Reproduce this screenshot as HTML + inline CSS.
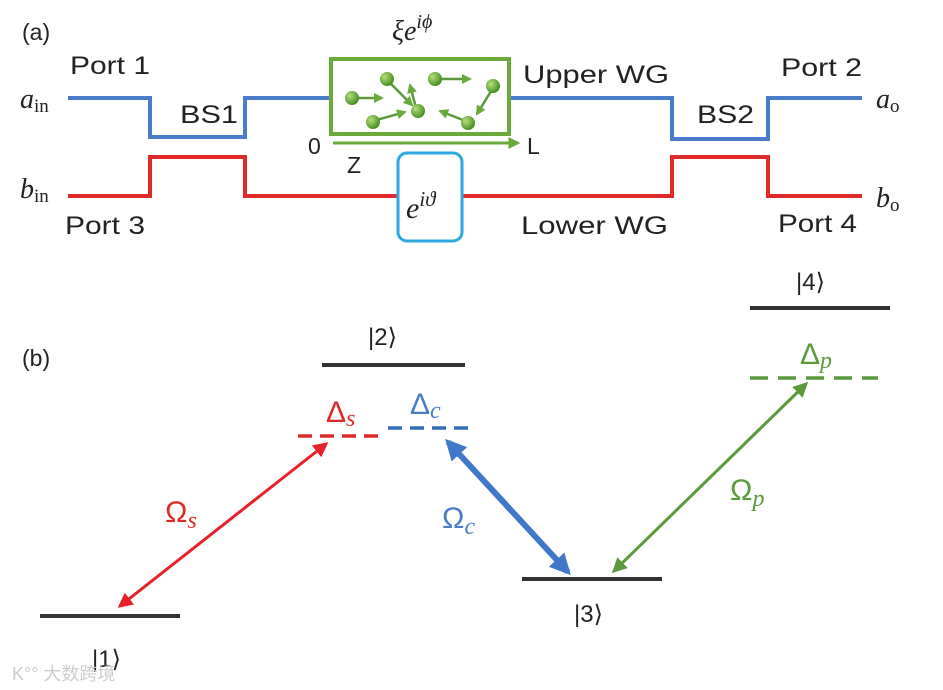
<!DOCTYPE html>
<html><head><meta charset="utf-8"><style>
html,body{margin:0;padding:0;background:#fff;}
svg{display:block;}
text{font-family:"Liberation Sans",sans-serif;}
.m{font-family:"Liberation Serif",serif;font-style:italic;}
</style></head><body>
<svg width="943" height="690" viewBox="0 0 943 690" xmlns="http://www.w3.org/2000/svg">
<defs>
<marker id="ar" viewBox="0 0 10 10" refX="8" refY="5" markerWidth="5" markerHeight="5" orient="auto-start-reverse"><path d="M0,0 L10,5 L0,10 z" fill="#e8202a"/></marker>
<marker id="ab" viewBox="0 0 10 10" refX="8" refY="5" markerWidth="3.5" markerHeight="3.5" orient="auto-start-reverse"><path d="M0,0 L10,5 L0,10 z" fill="#3f78c8"/></marker>
<marker id="ag" viewBox="0 0 10 10" refX="8" refY="5" markerWidth="5" markerHeight="5" orient="auto-start-reverse"><path d="M0,0 L10,5 L0,10 z" fill="#5a9a3a"/></marker>
<marker id="as" viewBox="0 0 10 10" refX="8" refY="5" markerWidth="4" markerHeight="4" orient="auto"><path d="M0,0 L10,5 L0,10 z" fill="#6aaa3a"/></marker>
<radialGradient id="ball" cx="0.35" cy="0.35" r="0.7"><stop offset="0" stop-color="#b6e07a"/><stop offset="1" stop-color="#3f8a1e"/></radialGradient>
</defs>
<text x="22" y="40" font-size="23" fill="#222">(a)</text>
<text x="22" y="366" font-size="23" fill="#222">(b)</text>
<polyline points="68,98 150,98 150,137 245,137 245,98 330,98" fill="none" stroke="#4a7cc8" stroke-width="4"/>
<polyline points="510,98 672,98 672,139 768,139 768,98 862,98" fill="none" stroke="#4a7cc8" stroke-width="4"/>
<polyline points="68,196 150,196 150,157 245,157 245,196 398,196" fill="none" stroke="#e02a2a" stroke-width="4"/>
<polyline points="462,196 672,196 672,157 768,157 768,196 862,196" fill="none" stroke="#e02a2a" stroke-width="4"/>
<rect x="331" y="59" width="178" height="75" fill="#fff" stroke="#6aaa3a" stroke-width="4"/>
<rect x="398" y="153" width="64" height="88" rx="9" fill="#fff" stroke="#2ea8e0" stroke-width="3"/>
<line x1="333" y1="143" x2="518" y2="143" stroke="#6aaa3a" stroke-width="3" marker-end="url(#as)"/>
<g stroke="#5a9a3a" stroke-width="2.5" fill="none">
<line x1="352" y1="98" x2="382" y2="98" marker-end="url(#as)"/>
<line x1="387" y1="80" x2="412" y2="105" marker-end="url(#as)"/>
<line x1="416" y1="108" x2="410" y2="85" marker-end="url(#as)"/>
<line x1="436" y1="79" x2="470" y2="79" marker-end="url(#as)"/>
<line x1="373" y1="121" x2="405" y2="112" marker-end="url(#as)"/>
<line x1="468" y1="122" x2="440" y2="111" marker-end="url(#as)"/>
<line x1="493" y1="88" x2="477" y2="114" marker-end="url(#as)"/>
</g>
<g fill="url(#ball)">
<circle cx="352" cy="98" r="7"/><circle cx="387" cy="79" r="7"/><circle cx="435" cy="79" r="7"/>
<circle cx="493" cy="86" r="7"/><circle cx="418" cy="111" r="7"/><circle cx="373" cy="122" r="7"/><circle cx="468" cy="123" r="7"/>
</g>
<text x="392" y="40" font-size="28" class="m" fill="#222">ξe<tspan font-size="20" dy="-12">iϕ</tspan></text>
<text x="406" y="218" font-size="30" class="m" fill="#222">e<tspan font-size="21" dy="-12">iϑ</tspan></text>
<text x="308" y="154" font-size="23" fill="#222">0</text>
<text x="347" y="173" font-size="23" fill="#222">Z</text>
<text x="527" y="154" font-size="23" fill="#222">L</text>
<text x="70" y="74" font-size="25" fill="#222" textLength="80" lengthAdjust="spacingAndGlyphs">Port 1</text>
<text x="180" y="123" font-size="25" fill="#222" textLength="58" lengthAdjust="spacingAndGlyphs">BS1</text>
<text x="523" y="83" font-size="25" fill="#222" textLength="146" lengthAdjust="spacingAndGlyphs">Upper WG</text>
<text x="697" y="123" font-size="25" fill="#222" textLength="57" lengthAdjust="spacingAndGlyphs">BS2</text>
<text x="781" y="76" font-size="25" fill="#222" textLength="81" lengthAdjust="spacingAndGlyphs">Port 2</text>
<text x="65" y="234" font-size="25" fill="#222" textLength="80" lengthAdjust="spacingAndGlyphs">Port 3</text>
<text x="521" y="234" font-size="25" fill="#222" textLength="147" lengthAdjust="spacingAndGlyphs">Lower WG</text>
<text x="778" y="232" font-size="25" fill="#222" textLength="79" lengthAdjust="spacingAndGlyphs">Port 4</text>
<text x="20" y="108" font-size="28" class="m" fill="#222">a<tspan font-size="19" font-style="normal" dy="4">in</tspan></text>
<text x="20" y="198" font-size="28" class="m" fill="#222">b<tspan font-size="19" font-style="normal" dy="4">in</tspan></text>
<text x="876" y="108" font-size="28" class="m" fill="#222">a<tspan font-size="19" font-style="normal" dy="4">o</tspan></text>
<text x="876" y="207" font-size="28" class="m" fill="#222">b<tspan font-size="19" font-style="normal" dy="4">o</tspan></text>
<g stroke="#333" stroke-width="4">
<line x1="40" y1="616" x2="180" y2="616"/><line x1="322" y1="365" x2="465" y2="365"/>
<line x1="522" y1="579" x2="662" y2="579"/><line x1="750" y1="308" x2="890" y2="308"/>
</g>
<line x1="298" y1="436" x2="378" y2="436" stroke="#e02a2a" stroke-width="3.5" stroke-dasharray="14,8"/>
<line x1="388" y1="428" x2="468" y2="428" stroke="#2f6fb8" stroke-width="3.5" stroke-dasharray="14,8"/>
<line x1="750" y1="378" x2="878" y2="378" stroke="#5a9a3a" stroke-width="3.5" stroke-dasharray="18,10"/>
<line x1="120" y1="606" x2="326" y2="444" stroke="#e8202a" stroke-width="3" marker-start="url(#ar)" marker-end="url(#ar)"/>
<line x1="448" y1="442" x2="568" y2="572" stroke="#3f78c8" stroke-width="6" marker-start="url(#ab)" marker-end="url(#ab)"/>
<line x1="614" y1="571" x2="806" y2="384" stroke="#5a9a3a" stroke-width="3" marker-start="url(#ag)" marker-end="url(#ag)"/>
<text x="92" y="667" font-size="24" fill="#222">|1⟩</text>
<text x="368" y="345" font-size="24" fill="#222">|2⟩</text>
<text x="574" y="622" font-size="24" fill="#222">|3⟩</text>
<text x="796" y="290" font-size="24" fill="#222">|4⟩</text>
<text x="326" y="422" font-size="30" fill="#e02a2a">Δ<tspan class="m" font-size="24" dy="4">s</tspan></text>
<text x="410" y="414" font-size="30" fill="#4a7cc8">Δ<tspan class="m" font-size="24" dy="4">c</tspan></text>
<text x="800" y="364" font-size="30" fill="#5a9a3a">Δ<tspan class="m" font-size="24" dy="4">p</tspan></text>
<text x="165" y="522" font-size="30" fill="#e02a2a" font-family="Liberation Serif,serif">Ω<tspan class="m" font-size="24" dy="6">s</tspan></text>
<text x="442" y="528" font-size="30" fill="#4a7cc8" font-family="Liberation Serif,serif">Ω<tspan class="m" font-size="24" dy="6">c</tspan></text>
<text x="730" y="500" font-size="30" fill="#5a9a3a" font-family="Liberation Serif,serif">Ω<tspan class="m" font-size="24" dy="6">p</tspan></text>
<text x="12" y="680" font-size="18" fill="#ccc" font-family="'Liberation Sans','Noto Sans CJK SC',sans-serif">K°° 大数跨境</text>
</svg>
</body></html>
